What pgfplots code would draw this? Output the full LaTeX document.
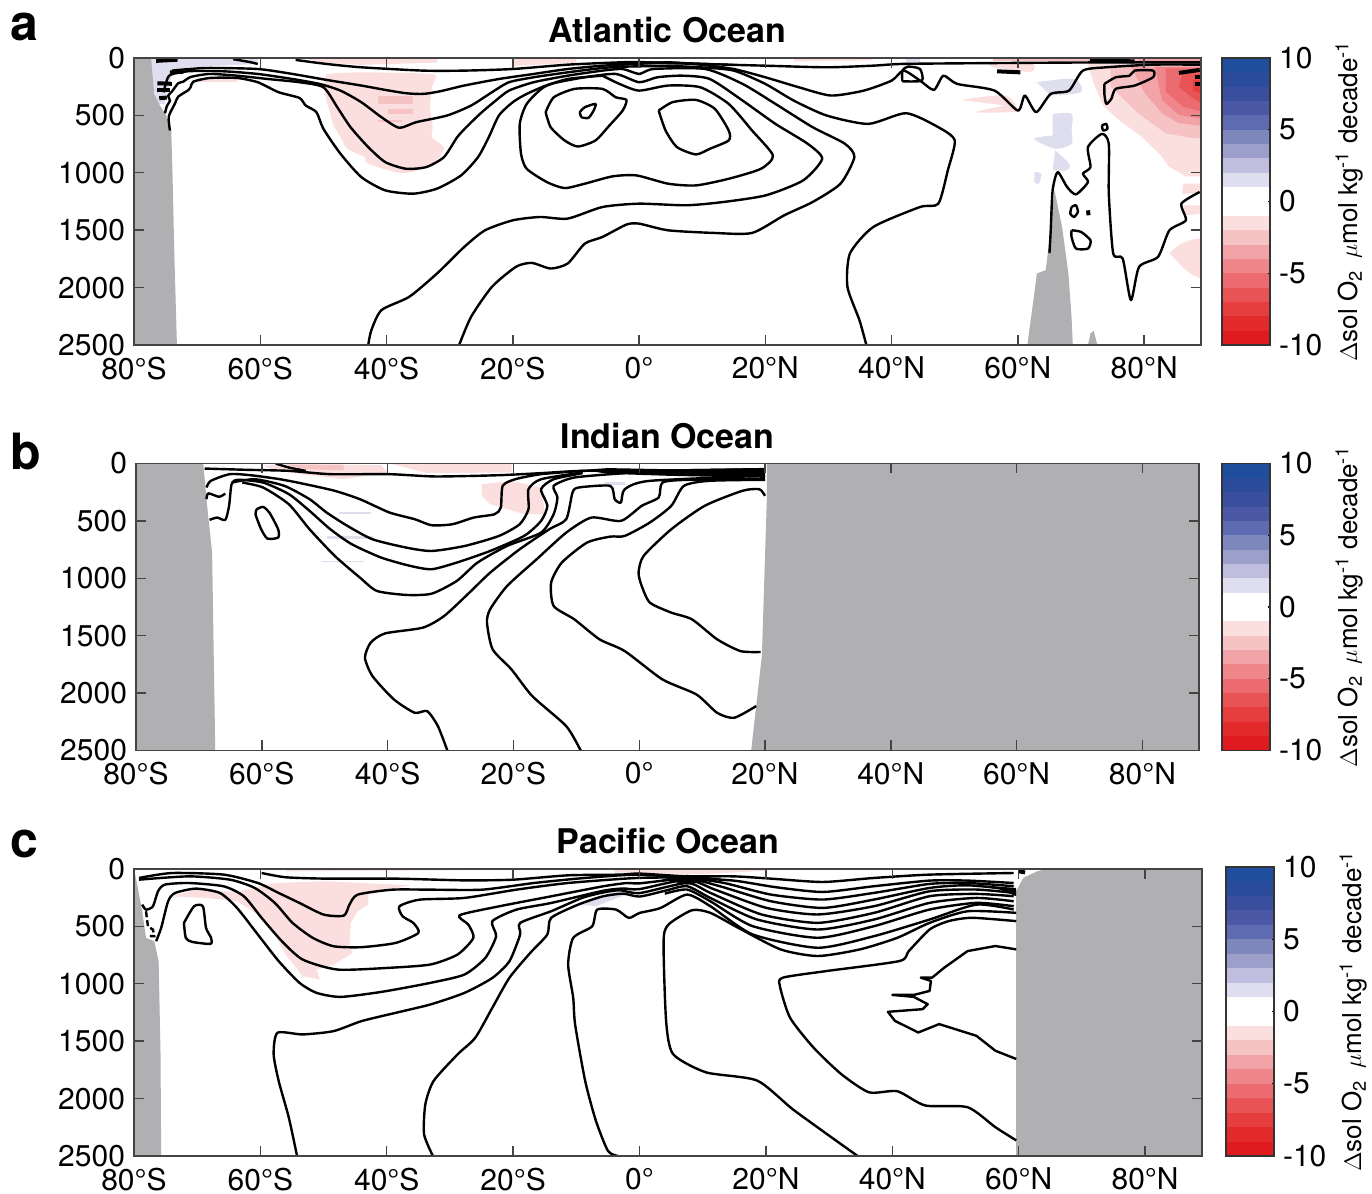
\documentclass[border=0pt]{standalone}
\usepackage{fontspec}
\setmainfont{TeX Gyre Heros}
\usepackage{pgfplots}
\pgfplotsset{compat=1.18}
\definecolor{fr}{HTML}{444444}
\definecolor{gr}{HTML}{B0B0B2}
\definecolor{b1}{HTML}{DEDEEE}\definecolor{b2}{HTML}{BFBEDF}\definecolor{b3}{HTML}{9D9FCB}
\definecolor{b4}{HTML}{7D87BC}\definecolor{b5}{HTML}{5F6BB0}\definecolor{b6}{HTML}{4A58A5}
\definecolor{b7}{HTML}{3A4E9E}\definecolor{b8}{HTML}{2B4B9B}\definecolor{b9}{HTML}{1F4E9E}
\definecolor{r1}{HTML}{FBDFDF}\definecolor{r2}{HTML}{F6C3C4}\definecolor{r3}{HTML}{F2A3A8}
\definecolor{r4}{HTML}{EE868C}\definecolor{r5}{HTML}{EB6B70}\definecolor{r6}{HTML}{E85456}
\definecolor{r7}{HTML}{E63E3F}\definecolor{r8}{HTML}{E32A2B}\definecolor{r9}{HTML}{E01B1F}
\newcommand{\tf}{\fontsize{15}{17}\selectfont}
\newcommand{\clabel}{$\Delta$sol O\textsubscript{2}\hspace{0.45em}$\mu$mol kg\textsuperscript{-1} decade\textsuperscript{-1}}
\pgfplotsset{
 panel/.style={scale only axis,height=143.5pt,y dir=reverse,xmin=-80,xmax=89,ymin=0,ymax=2500,
  xtick={-80,-60,-40,-20,0,20,40,60,80},
  xticklabels={80°S,60°S,40°S,20°S,0°,20°N,40°N,60°N,80°N},
  ytick={0,500,1000,1500,2000,2500},yticklabels={0,500,1000,1500,2000,2500},
  tick align=inside,major tick length=5pt,axis on top,
  axis line style={fr,line width=0.8pt},tick style={fr,line width=0.7pt},
  tick label style={font=\tf},
  xticklabel style={yshift=-2.5pt},yticklabel style={xshift=-1pt},
  title style={font=\fontsize{17}{19}\selectfont\bfseries,yshift=-2pt}},
 cbar/.style={scale only axis,width=24pt,xmin=0,xmax=1,ymin=-10,ymax=10,xtick=\empty,
  ytick={-10,-5,0,5,10},yticklabels={-10,-5,0,5,10},ytick pos=right,yticklabel pos=right,
  tick align=inside,major tick length=1.2pt,axis on top,
  axis line style={black!80,line width=0.8pt},tick style={black,line width=0.6pt},
  tick label style={font=\tf},yticklabel style={xshift=1pt},
  ylabel={\clabel},ylabel style={font=\fontsize{13}{15}\selectfont,at={(axis description cs:2.65,0.5)},anchor=center}},
 ct/.style={black,line width=1.2pt,smooth,tension=0.4,line join=round},
 th/.style={black,line width=2pt},
 pat/.style={draw=none,fill=#1},
 spat/.style={draw=none,fill=#1,smooth,tension=0.5},
}
\newcommand{\cbfill}{%
 \addplot[pat=r9] coordinates {(0,-10)(1,-10)(1,-9)(0,-9)} -- cycle;
 \addplot[pat=r8] coordinates {(0,-9)(1,-9)(1,-8)(0,-8)} -- cycle;
 \addplot[pat=r7] coordinates {(0,-8)(1,-8)(1,-7)(0,-7)} -- cycle;
 \addplot[pat=r6] coordinates {(0,-7)(1,-7)(1,-6)(0,-6)} -- cycle;
 \addplot[pat=r5] coordinates {(0,-6)(1,-6)(1,-5)(0,-5)} -- cycle;
 \addplot[pat=r4] coordinates {(0,-5)(1,-5)(1,-4)(0,-4)} -- cycle;
 \addplot[pat=r3] coordinates {(0,-4)(1,-4)(1,-3)(0,-3)} -- cycle;
 \addplot[pat=r2] coordinates {(0,-3)(1,-3)(1,-2)(0,-2)} -- cycle;
 \addplot[pat=r1] coordinates {(0,-2)(1,-2)(1,-1)(0,-1)} -- cycle;
 \addplot[pat=b1] coordinates {(0,1)(1,1)(1,2)(0,2)} -- cycle;
 \addplot[pat=b2] coordinates {(0,2)(1,2)(1,3)(0,3)} -- cycle;
 \addplot[pat=b3] coordinates {(0,3)(1,3)(1,4)(0,4)} -- cycle;
 \addplot[pat=b4] coordinates {(0,4)(1,4)(1,5)(0,5)} -- cycle;
 \addplot[pat=b5] coordinates {(0,5)(1,5)(1,6)(0,6)} -- cycle;
 \addplot[pat=b6] coordinates {(0,6)(1,6)(1,7)(0,7)} -- cycle;
 \addplot[pat=b7] coordinates {(0,7)(1,7)(1,8)(0,8)} -- cycle;
 \addplot[pat=b8] coordinates {(0,8)(1,8)(1,9)(0,9)} -- cycle;
 \addplot[pat=b9] coordinates {(0,9)(1,9)(1,10)(0,10)} -- cycle;
}
\begin{document}
\begin{tikzpicture}
\path[use as bounding box] (0,0) rectangle (686pt,597pt);
\node[font=\fontsize{25}{27}\selectfont\bfseries] at (12pt,583.5pt) {a};
\node[font=\fontsize{25}{27}\selectfont\bfseries] at (13pt,371pt) {b};
\node[font=\fontsize{25}{27}\selectfont\bfseries] at (12pt,175pt) {c};
%% ---------- a
\begin{axis}[panel,at={(67pt,424.5pt)},anchor=south west,width=533.5pt,title={Atlantic Ocean}]
% pink and blue
\addplot[spat=r1] coordinates {(-49.5,139)(-44,125)(-33.1,139)(-32.3,183)(-32.8,255)(-33.1,429)(-32.7,603)(-32.8,689)(-30.9,791)(-33.1,936)(-37.5,1002)(-42.9,921)(-43.5,863)(-46.2,791)(-47.3,689)(-48.4,588)(-48.9,487)(-49.5,371)(-50,226)} -- cycle;
\addplot[pat=r1] coordinates {(-53.3,0)(-32,0)(-32,40)(-44,60)(-50,40)} -- cycle;
\addplot[pat=r1] coordinates {(-20,0)(-10,0)(-10,40)(-20,70)} -- cycle;
\addplot[pat=r1] coordinates {(-70.2,174)(-63.7,174)(-63.7,211)(-70.2,211)} -- cycle;
\addplot[pat=r1] coordinates {(24.5,0)(37,0)(37,20)(24.5,30)} -- cycle;
\addplot[pat=r2] coordinates {(-41.3,330)(-35.8,330)(-35.8,400)(-41.3,400)} -- cycle;
\addplot[pat=r2] coordinates {(-39.7,445)(-35.8,445)(-35.8,490)(-39.7,490)} -- cycle;
\addplot[pat=r2] coordinates {(-41.3,540)(-37.5,540)(-37.5,560)(-41.3,560)} -- cycle;
\addplot[pat=b1] coordinates {(-77.3,0)(-60.4,0)(-60.4,52)(-71.3,81)(-74,139)(-75.1,400)(-76.2,400)(-77.3,197)} -- cycle;
\addplot[pat=b1] coordinates {(42.3,0)(44.5,0)(44.5,40)(42.3,40)} -- cycle;
\addplot[spat=b1] coordinates {(63,211)(68.9,182)(70,298)(65.2,327)} -- cycle;
\addplot[spat=b1] coordinates {(65.5,487)(68.5,487)(68.5,632)(68.5,747)(65.9,791)(62.6,704)(65.5,675)} -- cycle;
\addplot[spat=b1] coordinates {(65.9,805)(68.1,921)(67.8,979)(65.5,979)} -- cycle;
\addplot[spat=b1] coordinates {(62.6,994)(63.7,1008)(63.3,1095)(62.6,1081)} -- cycle;
% north-eastern decline
\addplot[pat=r1] coordinates {(71,0)(90,0)(90,1032)(86.6,1032)(83.9,945)(82.8,858)(79.6,684)(76.3,553)(73.6,423)(72,220)(71,31)} -- cycle;
\addplot[spat=r1] coordinates {(51,365)(58,327)(60,458)(59,472)(53.3,472)(58,414)} -- cycle;
\addplot[spat=r1] coordinates {(55,40)(62,40)(62,120)(56,80)} -- cycle;
\addplot[spat=r1] coordinates {(84,1703)(85.9,1617)(89.2,1588)(89.2,1906)(86.6,1848)(85.1,1761)} -- cycle;
\addplot[pat=r1] coordinates {(86.2,1283)(89.2,1283)(89.2,1356)(86.6,1370)} -- cycle;
\addplot[pat=r1] coordinates {(86.2,1095)(89.2,1095)(89.2,1182)(86,1182)} -- cycle;
\addplot[pat=r2] coordinates {(74.7,75)(90,75)(90,699)(87.7,699)(83.4,655)(79,481)(75.8,307)(74.7,249)} -- cycle;
\addplot[pat=r3] coordinates {(77.9,75)(90,75)(90,597)(85.5,568)(82.8,481)(80.1,307)} -- cycle;
\addplot[pat=r4] coordinates {(81.7,75)(90,75)(90,539)(85.5,495)(82.8,365)} -- cycle;
\addplot[pat=r5] coordinates {(83.4,90)(90,90)(90,481)(86.1,423)(83.4,292)} -- cycle;
\addplot[pat=r6] coordinates {(86.1,133)(90,133)(90,423)(87.7,350)(85.5,249)} -- cycle;
\addplot[pat=r7] coordinates {(87.7,191)(90,191)(90,336)(87.7,278)} -- cycle;
\addplot[pat=r3] coordinates {(79,0)(90,0)(90,30)(79,30)} -- cycle;
\addplot[pat=r2] coordinates {(56,0)(79,0)(79,25)(56,25)} -- cycle;
% land
\addplot[pat=gr] coordinates {(-80,0)(-77.3,0)(-76.8,313)(-75.9,414)(-74.9,501)(-74.1,632)(-73.9,1008)(-73.6,1732)(-73.2,2500)(-80,2500)} -- cycle;
\addplot[pat=gr] coordinates {(61.5,2500)(62.6,2051)(63,1877)(64.4,1848)(65,1588)(65.3,1356)(65.8,1153)(67,1472)(68,1877)(68.5,2254)(68.7,2500)} -- cycle;
\addplot[pat=gr] coordinates {(71.1,2500)(71.5,2399)(72,2376)(72.6,2500)} -- cycle;
% contours
\addplot[ct] coordinates {(-54.4,17)(-49.5,52)(-44,81)(-34.2,110)(-27.7,110)(-20,96)(-11.3,58)(-3.1,38)(0,35)(5,45)(20,67)(29.7,81)(37,67)(41.5,52)(51.9,46)(74,38)(89,38)};
\addplot[ct] coordinates {(-64.3,10)(-61.7,35)(-60.4,52)};
\addplot[ct] coordinates {(-74,110)(-68.6,87)(-60.4,96)(-54.9,139)(-49.5,191)(-44,240)(-40.2,278)(-36.9,307)(-34.2,313)(-31.5,290)(-27.7,240)(-22.2,183)(-16.7,139)(-11.3,96)(-5.8,67)(-0.4,52)(4.6,38)(9.7,58)(15,96)(20,168)(25.3,255)(30.4,327)(35.6,284)(40,197)(41.9,110)(44.5,197)(46.7,278)(48.2,154)(50.4,226)(56.3,284)(60,458)(61.1,327)(62.9,472)(65.2,313)(68.1,284)(70.3,110)(74,81)(81.4,58)(89,58)};
\addplot[ct] coordinates {(-75.3,300)(-75,230)(-74.3,148)(-71.3,115)(-65.8,116)(-60.4,139)(-54.9,183)(-50.6,226)(-47.3,284)(-44,385)(-40.8,516)(-38,608)(-35.3,559)(-30.4,501)(-26.6,414)(-23.3,298)(-20.6,211)(-16.7,168)(-11.3,125)(-5.8,87)(-2,75)(4.6,70)(9.7,81)(15,110)(20,226)(24.5,371)(29.7,501)(36.3,574)(42.3,481)(47.4,603)(50,718)(48.9,979)(47.4,1269)(44.5,1298)(37.1,1472)(33.4,1703)(33,1993)(34.9,2283)(36,2500)};
\addplot[ct] coordinates {(-75.1,482)(-74.8,420)(-74.3,370)(-74.6,330)(-74,293)(-73,220)(-72.2,206)(-71,165)(-68,139)(-63.7,154)(-58.8,183)(-53.8,211)(-50,255)(-47.8,429)(-45.7,603)(-42.9,776)(-40.2,907)(-36.9,965)(-33.7,950)(-30.9,863)(-28.8,689)(-27.1,588)(-24.9,472)(-22.7,371)(-20.6,284)(-16.7,211)(-11.3,154)(-5.8,110)(-2.6,96)(0,139)(2.3,96)(10.5,96)(16.4,226)(21.6,400)(27.5,603)(32.6,747)(34.1,863)(31.9,1095)(27.5,1254)(23,1370)(17.9,1524)(11.9,1524)(4.6,1501)(0,1443)(-2,1451)(-5.8,1559)(-8.6,1617)(-11.3,1790)(-14,1834)(-17,1785)(-19.5,1819)(-23.3,1993)(-26.6,2254)(-28.5,2500)};
\addplot[ct] coordinates {(-74.3,632)(-74.5,511)(-73.5,395)(-73,337)(-71.4,280)(-71,250)(-70.6,206)(-68,174)(-63.7,174)(-60.4,211)(-57.1,298)(-53.8,348)(-52.8,414)(-51.1,472)(-50,617)(-47.3,834)(-44,1037)(-40.2,1153)(-35.8,1182)(-32,1138)(-28.2,1023)(-25.5,863)(-23.8,689)(-22.2,501)(-20,385)(-17.8,313)(-14,226)(-8.6,168)(-3.7,139)(0,211)(2.9,168)(6.8,154)(11.2,183)(16.4,371)(21.6,574)(26.7,747)(29,878)(26,1066)(20.1,1196)(13.4,1254)(7.5,1283)(0,1269)(-5.8,1298)(-11.3,1399)(-15.7,1385)(-20,1414)(-24.4,1501)(-27.7,1646)(-32,1877)(-36.4,2080)(-40.8,2196)(-42.4,2370)(-42.9,2500)};
\addplot[ct] coordinates {(-5.8,154)(-11.3,183)(-15.1,255)(-17.8,400)(-18.9,574)(-18.7,834)(-17.8,965)(-14.6,1081)(-11.8,1133)(-8.6,1095)(-4.2,1031)(-0.4,1023)(4.6,1095)(9,1110)(14.2,1052)(19.3,965)(21.2,849)(17.9,632)(14.2,400)(9.7,255)(4.6,240)(0,284)(-3.1,226)(-5.8,154)};
\addplot[ct] coordinates {(-14.8,472)(-13.5,342)(-10.2,269)(-5.8,269)(-3.7,342)(-2,365)(-2.6,458)(-4.7,588)(-6.9,718)(-9.7,771)(-11.8,718)(-14,603)(-14.8,472)};
\addplot[ct] coordinates {(-9.4,472)(-8.6,429)(-6.9,400)(-7.2,458)(-8,521)(-9.1,516)(-9.4,472)};
\addplot[ct] coordinates {(3.1,458)(5.3,385)(9,365)(12,443)(14.2,632)(14.2,718)(11.2,791)(9,840)(6,776)(4.2,632)(3.1,458)};
\addplot[ct] coordinates {(65,1700)(65.2,1501)(65.5,1153)(66.3,994)(67.8,1124)(69.2,1188)(71.1,1081)(70.3,1008)(71.5,950)(71.1,776)(73.3,661)(74.4,747)(74.4,1182)(75.1,1703)(76.6,1747)(77.9,2109)(79.2,1819)(82.2,1732)(84,1501)(86.6,1414)(85.9,1269)(88.8,1167)};
\addplot[ct] coordinates {(68.5,1298)(69.2,1283)(69.5,1341)(68.9,1385)(68.3,1356)(68.5,1298)};
\addplot[th] coordinates {(71.1,1327)(71.2,1370)};
\addplot[ct] coordinates {(68.5,1501)(70,1515)(71.5,1588)(71.1,1660)(69.2,1660)(68.5,1559)(68.5,1501)};
\addplot[ct] coordinates {(73.3,588)(74,574)(74.2,617)(73.5,632)(73.3,588)};
\addplot[ct] coordinates {(73.7,226)(75.5,168)(77.7,154)(78.5,110)(81.4,110)(81.4,168)(78.5,240)(75.5,269)(74.8,356)(74,400)(73.7,313)(73.7,226)};
\addplot[ct] coordinates {(41.7,203)(41.7,110)(42.6,75)(44.5,96)(44.8,197)(41.7,203)};
\addplot[th] coordinates {(56.7,116)(60.4,125)};
\addplot[th] coordinates {(85.5,130)(88.8,104)};
\addplot[th] coordinates {(88,168)(89,168)};
\addplot[th] coordinates {(88,226)(89,226)};
\addplot[th] coordinates {(71.4,23)(78.5,29)};
\addplot[th] coordinates {(-76.3,220)(-74,225)};
\addplot[th] coordinates {(-76.3,278)(-74.3,278)};
\addplot[th] coordinates {(-76,350)(-74.8,345)};
\addplot[th] coordinates {(-74.3,125)(-72.2,120)};
\addplot[th] coordinates {(-76.5,25)(-73.1,15)};
\addplot[pat=black] coordinates {(-8,50)(-2,30)(5,30)(15,50)(5,55)(-2,55)} -- cycle;
\end{axis}
\begin{axis}[cbar,at={(611pt,424.5pt)},anchor=south west,height=143.5pt]
\cbfill
\end{axis}
%% ---------- b
\begin{axis}[panel,at={(68pt,221.75pt)},anchor=south west,width=531.5pt,title={Indian Ocean}]
\addplot[pat=r1] coordinates {(-59.8,20)(-55.7,6)(-41,15)(-40,78)(-47,137)(-53.7,93)(-58.4,49)} -- cycle;
\addplot[pat=r1] coordinates {(-39.7,0)(-20.3,0)(-20.3,78)(-33.7,84)} -- cycle;
\addplot[pat=r1] coordinates {(-25,180)(-20.3,151)(-15.6,209)(-15,442)(-18.3,442)(-21.7,384)(-23.7,355)(-25,282)} -- cycle;
\addplot[pat=r2] coordinates {(-56,10)(-47,10)(-47,60)(-53,50)} -- cycle;
\addplot[pat=b1] coordinates {(-47.7,420)(-42.6,420)(-42.6,440)(-47.7,440)} -- cycle;
\addplot[pat=b1] coordinates {(-49.7,630)(-42.4,630)(-42.4,660)(-49.7,660)} -- cycle;
\addplot[pat=b1] coordinates {(-50.4,845)(-43.7,845)(-43.7,860)(-50.4,860)} -- cycle;
\addplot[pat=b1] coordinates {(-5.6,160)(-2.3,160)(-2.3,185)(-5.6,185)} -- cycle;
\addplot[pat=gr] coordinates {(-80,0)(-69.3,0)(-68.8,311)(-67.9,776)(-67.4,2500)(-80,2500)} -- cycle;
\addplot[pat=gr] coordinates {(20.3,0)(89,0)(89,2500)(17.8,2500)(18.6,2113)(19.5,1677)(20.3,300)} -- cycle;
\addplot[ct] coordinates {(-69.1,44)(-62.4,55)(-55.7,64)(-49.1,93)(-39.7,93)(-32.4,113)(-22.3,102)(-15.6,84)(-9,64)(1.1,64)(19.8,49)};
\addplot[ct] coordinates {(-57.8,0)(-55.7,35)(-53,64)};
\addplot[ct] coordinates {(-68.8,209)(-68.1,151)(-65.1,93)(-61.8,102)(-57.1,137)(-53.1,180)(-48.4,238)(-44.4,311)(-39.7,427)(-35.7,485)(-33,538)(-29.7,529)(-26.3,471)(-23,442)(-22,384)(-21.7,195)(-19.7,137)(-15.6,93)(-9,64)};
\addplot[ct] coordinates {(-68.8,311)(-68.5,260)(-66.8,290)(-65.8,262)};
\addplot[ct] coordinates {(-64.8,166)(-61.1,137)(-56.4,195)(-52.4,311)(-49.7,427)(-46.4,543)(-42.4,660)(-37,733)(-33,762)(-27.7,718)(-22.3,631)(-19,529)(-17.6,398)(-17.6,224)(-15.6,137)(-9,78)};
\addplot[ct] coordinates {(-68.3,491)(-67.1,471)(-65.8,491)(-65.2,369)(-64.8,180)(-63.8,142)(-59.8,166)(-55.7,267)(-52.4,413)(-49.1,573)(-45.7,703)(-41,820)(-36.4,892)(-33,921)(-29,863)(-23.7,762)(-18.3,631)(-15.6,500)(-14.6,369)(-15.6,224)(-13.6,137)(-9,84)};
\addplot[ct] coordinates {(-63.1,166)(-59.8,209)(-55.7,355)(-52.4,573)(-48.4,805)(-44.4,994)(-41.7,1110)(-37,1145)(-33,1134)(-29,1023)(-25.7,863)(-21,718)(-15.6,602)(-13.6,442)(-13,296)(-13.6,195)(-10.3,122)(-2.3,84)};
\addplot[ct] coordinates {(-30.5,2500)(-32,2288)(-33.7,2157)(-35.7,2171)(-39,2055)(-42.4,1852)(-43.6,1692)(-42.7,1561)(-40.4,1480)(-34.4,1430)(-31,1328)(-27,1125)(-23.7,951)(-19,747)(-14.3,573)(-11.6,485)(-10.6,253)(-9.6,209)(-4.6,195)(-3.9,311)(-2.9,340)(-2.3,224)(1.7,151)(20,107)};
\addplot[ct] coordinates {(-9.3,2500)(-11.6,2288)(-17,2026)(-20.3,1794)(-23.3,1619)(-24.2,1387)(-23.7,1270)(-21,1067)(-16.3,834)(-11.6,602)(-7.6,471)(-2.9,500)(0.4,369)(3.1,296)(3.7,166)(7.8,142)(20,137)};
\addplot[ct] coordinates {(18.6,2113)(15.1,2215)(12.4,2172)(9.1,2012)(3.7,1881)(-2.3,1634)(-6.3,1532)(-10.3,1358)(-13.6,1241)(-14,1038)(-12.3,863)(-8.3,689)(-4.6,637)(-2.3,631)(1.7,514)(5.1,369)(7.1,195)(11.1,151)(20,142)};
\addplot[ct] coordinates {(19.3,1642)(16.1,1634)(12.4,1532)(8.4,1358)(5.1,1299)(1.7,1212)(0.4,1067)(-0.1,951)(0.7,805)(5.1,573)(10.4,369)(16.4,238)(19.1,224)(20,282)};
\addplot[ct] coordinates {(-60.8,398)(-59.8,378)(-58.8,427)(-57.4,573)(-57.4,645)(-59.1,654)(-60.1,573)(-61,442)(-60.8,398)};
\addplot[pat=black] coordinates {(-9,55)(-5,40)(5,50)(20,40)(20,125)(5,108)(-5,90)} -- cycle;
\end{axis}
\begin{axis}[cbar,at={(611pt,221.75pt)},anchor=south west,height=143.5pt]
\cbfill
\end{axis}
%% ---------- c
\begin{axis}[panel,at={(67pt,19pt)},anchor=south west,width=534pt,title={Pacific Ocean}]
\addplot[pat=r1] coordinates {(-74,238)(-70.2,180)(-66.4,194)(-63.1,194)(-57.7,122)(-49.5,107)(-36.4,142)(-42.9,223)(-42.9,310)(-44.6,368)(-45.7,470)(-45.9,673)(-45.4,731)(-48.4,832)(-51.1,876)(-50.6,963)(-53.3,934)(-56,745)(-57.7,571)(-60.4,397)(-63.7,281)(-68.6,252)} -- cycle;
\addplot[pat=r1] coordinates {(-4,0)(20,0)(20,15)(10,45)(-4,30)} -- cycle;
\addplot[pat=r1] coordinates {(-56,0)(-28,0)(-28,10)(-56,20)} -- cycle;
\addplot[pat=b1] coordinates {(-9.7,310)(-4.7,208)(-1,170)(-1,200)(-6.9,324)} -- cycle;
\addplot[pat=gr] coordinates {(-80,0)(-79.5,136)(-78.7,368)(-78.1,600)(-76.8,629)(-76.1,803)(-75.8,1615)(-75.7,2500)(-80,2500)} -- cycle;
\addplot[pat=gr] coordinates {(64.4,0)(89,0)(89,2500)(59.6,2500)(59.6,194)(60.7,78)(62.9,20)} -- cycle;
\addplot[ct] coordinates {(-59.8,35)(-56,72)(-49.5,84)(-38.6,84)(-27.7,99)(-20,93)(-11.3,55)(-3.1,49)(0,40)(7.5,64)(14.9,64)(20.8,84)(29,113)(37.1,78)(45.9,49)(59.2,35)};
\addplot[ct] coordinates {(-79.2,78)(-74,35)(-65.8,49)(-60.4,122)(-57.1,209)(-53.8,296)(-50,397)(-46.8,406)(-45.9,310)(-44.6,223)(-39.1,180)(-33.1,180)(-24.9,180)(-16.7,122)(-8.6,78)(-0.4,49)(7.5,78)(14.9,101)(21.6,159)(29,200)(37.1,150)(45.9,101)(51.9,101)(59.2,122)};
\addplot[ct] coordinates {(-79.2,93)(-71.3,64)(-64.8,93)(-60.9,165)(-57.7,296)(-54.9,470)(-51.7,600)(-48.4,673)(-44,681)(-38.6,644)(-35,557)(-35.8,470)(-37.5,412)(-38,325)(-34.8,267)(-27.7,252)(-19.5,180)(-11.3,122)(-0.4,78)(7.5,78)(13.4,122)(20.8,223)(29,266)(37.1,208)(45.9,130)(51.9,122)(59.2,150)};
\addplot[ct] coordinates {(-78.7,310)(-78.1,354)(-77,325)(-76.2,194)(-75.1,136)(-71.3,122)(-65.8,151)(-62.6,238)(-59.8,426)(-56.6,629)(-53.3,789)(-47.8,876)(-39.7,861)(-33.1,832)(-28.8,745)(-26.3,600)(-27.1,484)(-28.5,403)(-22.2,325)(-14,238)(-5.8,151)(-2,122)(0,125)(7.5,84)(12.7,150)(20.8,281)(29,339)(37.1,266)(45.9,165)(51.9,142)(59.2,179)};
\addplot[ct] coordinates {(-76.5,629)(-75.7,513)(-74.6,281)(-73.5,209)(-70.2,171)(-66.4,209)(-63.7,339)(-60.4,571)(-57.1,803)(-53.8,992)(-51.1,1079)(-47.3,1114)(-40.8,1070)(-33.1,992)(-27.7,919)(-24.4,774)(-22.7,586)(-23.3,455)(-19.5,354)(-14,296)(-5.8,190)(-2.6,170)(0,175)(7.5,93)(11.9,179)(20.1,339)(28.2,396)(37.1,324)(45.9,194)(53.3,179)(59.2,208)};
\addplot[ct] coordinates {(-54.2,2500)(-55.5,2166)(-57.1,1848)(-57.9,1615)(-57.3,1427)(-53.3,1441)(-48.4,1412)(-44,1325)(-38.6,1253)(-33.1,1180)(-27.7,1079)(-23.3,949)(-20.6,804)(-18.9,571)(-18.9,470)(-14,368)(-9.1,252)(-5.8,205)(-3.1,185)(0,210)(7.5,122)(11.2,208)(19.3,396)(28.2,469)(37.1,382)(45.9,237)(53.3,217)(59.2,237)};
\addplot[ct] coordinates {(-32.7,2500)(-34.1,2311)(-33.9,2050)(-32.6,1847)(-28.8,1615)(-26,1470)(-23.3,1209)(-20.6,948)(-17.3,731)(-14.6,571)(-14,426)(-9.7,310)(-5.8,238)(-2.6,215)(0,240)(4,190)(7.5,150)(11.2,252)(18.6,440)(28.2,527)(37.1,440)(45.9,295)(53.3,252)(59.2,281)};
\addplot[ct] coordinates {(4,215)(7.5,179)(11.2,281)(17.9,498)(28.2,599)(37.1,498)(45.9,353)(53.3,295)(59.2,324)};
\addplot[ct] coordinates {(-3.4,2500)(-5,2456)(-6.9,2195)(-8.6,1848)(-10.2,1354)(-10.5,1122)(-11.3,832)(-10.5,600)(-7.5,499)(-6.7,354)(-3.7,354)(-1.7,426)(0,383)(3.3,340)(7.5,223)(11.2,324)(17.9,570)(28.2,686)(37.1,585)(45.9,440)(53.3,310)(59.2,353)};
\addplot[ct] coordinates {(34.5,2500)(24.5,2104)(18.6,1843)(10.5,1771)(5.3,1612)(4.2,1323)(3.8,628)(4.6,483)(8.3,359)(11.2,382)(15.6,512)(22.3,700)(28.2,758)(34.9,700)(40.8,599)(45.9,469)(51.9,368)(59.6,382)};
\addplot[ct] coordinates {(59.6,454)(52.6,425)(48.9,454)(45.9,527)(42.6,715)(41.1,802)(29.7,888)(22.7,946)(22.2,1019)(23.8,1294)(27.5,1554)(31.9,1786)(36.3,1945)(40.8,1936)(45.2,2060)(51.9,2075)(56.3,2249)(59.6,2364)};
\addplot[black,line width=1.2pt,line join=round] coordinates {(59.6,700)(56.3,671)(51.9,715)(48.2,860)(46.3,946)(44.5,946)(46.1,975)(45.9,1062)(43.4,1097)(40,1097)(43.4,1114)(45.6,1178)(44.8,1221)(39.3,1244)(40.4,1323)(44.1,1424)(47.4,1351)(53.3,1453)(56.3,1583)(59.6,1655)};
\addplot[ct] coordinates {(-72.1,470)(-70.5,325)(-69.1,325)(-68.6,513)(-67.8,600)(-67.9,652)(-70.8,635)(-71.8,600)(-72.1,470)};
\addplot[black,line width=1.2pt,dash pattern=on 3pt off 1.5pt] coordinates {(-78.1,368)(-77.8,499)(-77,528)(-76.8,585)(-77.5,585)};
\addplot[pat=black] coordinates {(3.5,90)(7.5,50)(13,85)(7.5,136)} -- cycle;
\addplot[pat=black] coordinates {(51.9,136)(59.6,165)(59.6,237)(57,179)} -- cycle;
\addplot[th] coordinates {(60,20)(61,30)};
\end{axis}
\begin{axis}[cbar,at={(613pt,19pt)},anchor=south west,height=144.5pt]
\cbfill
\end{axis}
\end{tikzpicture}
\end{document}
